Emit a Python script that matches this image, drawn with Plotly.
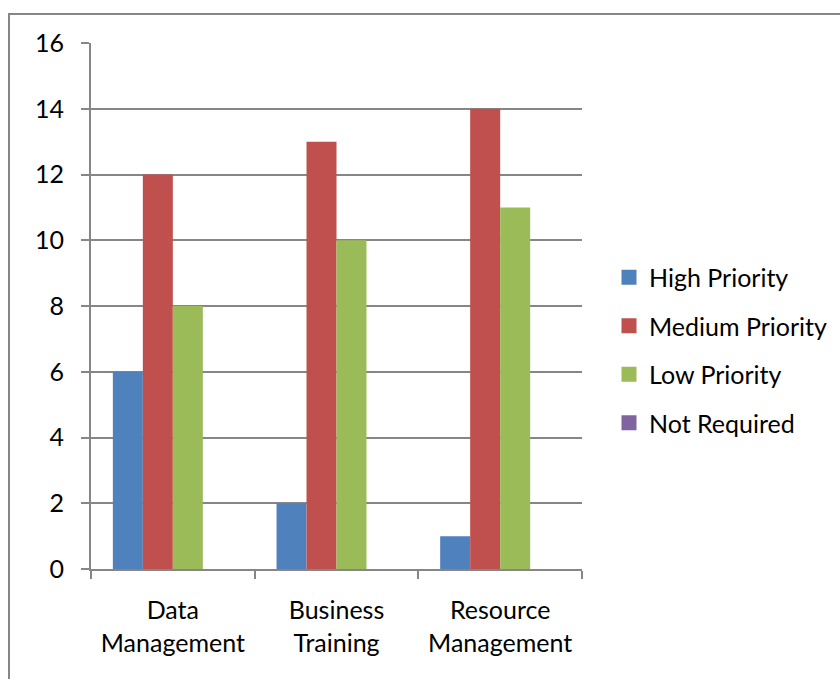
import plotly.graph_objects as go

# Survey results: number of respondents per priority level for each area
categories = ["Data<br>Management", "Business<br>Training", "Resource<br>Management"]
series_names = ["High Priority", "Medium Priority", "Low Priority", "Not Required"]
high_priority = [6, 2, 1]
medium_priority = [12, 13, 14]
low_priority = [8, 10, 11]
not_required = [0, 0, 0]
y_ticks = [0, 2, 4, 6, 8, 10, 12, 14, 16]

colors = ["#4F81BD", "#C0504D", "#9BBB59", "#8064A2"]
grey = "#868686"
font_family = "Lato, 'Open Sans', sans-serif"
fs = 25

W, H = 840, 679
L, R, T, B = 91, 582, 43, 569  # plot area edges in pixels

fig = go.Figure()
for name, vals, col in zip(series_names,
                           [high_priority, medium_priority, low_priority, not_required],
                           colors):
    fig.add_trace(go.Bar(
        x=categories, y=vals, name=name,
        marker=dict(color=col, line=dict(width=0)),
        showlegend=False,
    ))
    # legend entry with a larger square swatch
    fig.add_trace(go.Scatter(
        x=[None], y=[None], mode="markers", name=name,
        marker=dict(symbol="square", size=15, color=col),
        legendgroup=name,
    ))

fig.update_layout(
    width=W, height=H,
    margin=dict(l=L, r=W - R, t=T, b=H - B, autoexpand=False),
    paper_bgcolor="white", plot_bgcolor="white",
    barmode="group", bargap=0.267, bargroupgap=0,
    font=dict(family=font_family, size=fs, color="black"),
    legend=dict(
        x=(609 - L) / (R - L), xanchor="left",
        y=0.5 + (569 - 350 - (B - T) / 2) / (B - T), yanchor="middle",
        font=dict(size=fs), traceorder="grouped", tracegroupgap=13,
        itemwidth=30, bgcolor="rgba(0,0,0,0)",
    ),
    xaxis=dict(
        showline=True, linecolor=grey, linewidth=2,
        ticks="outside", tickson="boundaries", ticklen=8, tickcolor=grey, tickwidth=2,
        showgrid=False, tickfont=dict(size=fs), ticklabelstandoff=18,
    ),
    yaxis=dict(
        range=[0, 16], tickvals=y_ticks,
        showline=True, linecolor=grey, linewidth=2,
        ticks="outside", ticklen=8, tickcolor=grey, tickwidth=2,
        showgrid=True, gridcolor=grey, gridwidth=2,
        zeroline=False, tickfont=dict(size=fs), ticklabelstandoff=12,
    ),
)

# outer chart frame
fig.add_shape(type="rect", xref="paper", yref="paper",
              x0=(9 - L) / (R - L), x1=(860 - L) / (R - L),
              y0=(B - 700) / (B - T), y1=(B - 14) / (B - T),
              line=dict(color=grey, width=2), fillcolor="rgba(0,0,0,0)",
              layer="below")

fig.write_html("out.html")
